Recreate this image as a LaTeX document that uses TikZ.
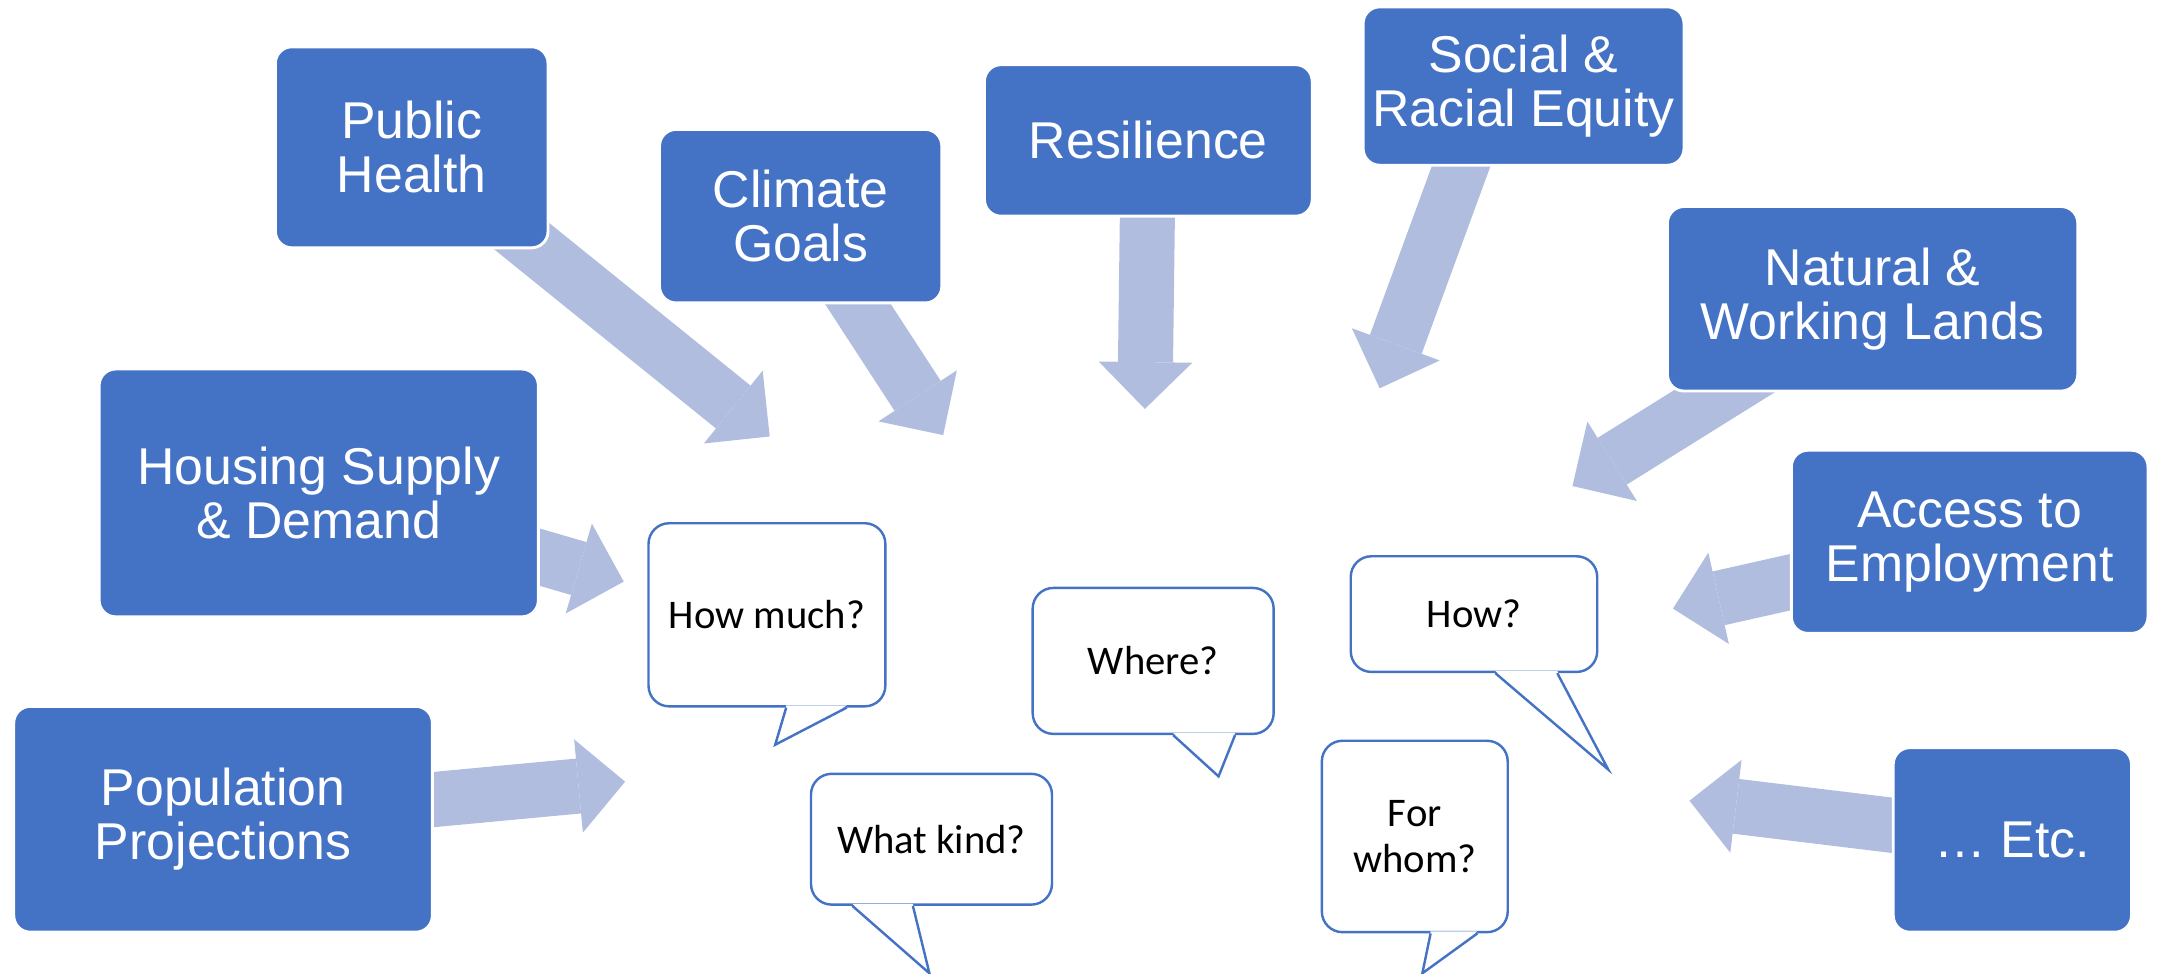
\documentclass[tikz,border=0pt]{standalone}
\usepackage{fontspec}
\setmainfont{Liberation Sans}
\newfontfamily\bubblefont{Carlito}
\usetikzlibrary{arrows.meta,calc,backgrounds}
\definecolor{boxblue}{RGB}{68,114,196}
\definecolor{arrowblue}{RGB}{176,189,222}
\begin{document}
\begin{tikzpicture}[x=0.1mm, y=-0.1mm,
		topic/.style = {fill=boxblue, draw=white, line width=0.6pt, rounded corners=1.2mm, text=white, align=center, inner sep=0pt, font=\fontsize{10.7pt}{11.2pt}\selectfont},
		ask/.style = {fill=white, draw=boxblue, line width=0.5pt, rounded corners=1.5mm, align=center, inner sep=0pt, font=\bubblefont\fontsize{8.4pt}{9.6pt}\selectfont},
		flow/.style = {draw=arrowblue, line width=4mm, -{Triangle[length=3.4mm, width=6.8mm, line width=0pt]}}]
			\useasboundingbox (0,0) rectangle (1568,707);

			\node[topic, minimum width=19.8mm, minimum height=14.6mm] (ph) at (299,107) {Public\\Health};
			\node[topic, minimum width=20.5mm, minimum height=12.6mm] (cg) at (581.5,157) {Climate\\Goals};
			\node[topic, minimum width=23.8mm, minimum height=11mm] (res) at (834,102) {Resilience};
			\node[topic, minimum width=23.3mm, minimum height=11.5mm] (sre) at (1106.5,62.5) {Social \&\\Racial Equity};
			\node[topic, minimum width=29.8mm, minimum height=13.4mm] (nwl) at (1360,217) {Natural \&\\Working Lands};
			\node[topic, minimum width=25.9mm, minimum height=13.3mm] (ate) at (1430.5,393.5) {Access to\\Employment};
			\node[topic, minimum width=17.3mm, minimum height=13.4mm] (etc) at (1461.5,610) {… Etc.};
			\node[topic, minimum width=31.9mm, minimum height=18mm] (hsd) at (231.5,358) {Housing Supply\\\& Demand};
			\node[topic, minimum width=30.4mm, minimum height=16.4mm] (pop) at (162,595) {Population\\Projections};

			\node[ask, minimum width=17.2mm, minimum height=13.3mm] (hm) at (557,446.5) {How much?};
			\node[ask, minimum width=17.5mm, minimum height=9.5mm] (wk) at (676.5,609.5) {What kind?};
			\node[ask, minimum width=17.5mm, minimum height=10.6mm] (wh) at (837.5,480) {Where?};
			\node[ask, minimum width=17.9mm, minimum height=8.4mm] (how) at (1070.5,446) {How?};
			\node[ask, minimum width=13.5mm, minimum height=13.9mm] (fw) at (1027.5,607.5) {For\\whom?};

			\foreach \b/\l/\r/\tx/\ty in {hm/14/58/6/27, wk/-57.5/-13.5/-1.5/49, wh/14.5/59.5/47.5/30, how/15.5/60.5/97.5/70, fw/11.5/45.5/5.5/29} {
				\fill[white] ($(\b.south)+(\l,-1.5)$) -- ($(\b.south)+(\tx,\ty)$) -- ($(\b.south)+(\r,-1.5)$) -- cycle;
				\draw[boxblue, line width=0.5pt] ($(\b.south)+(\l,0)$) -- ($(\b.south)+(\tx,\ty)$) -- ($(\b.south)+(\r,0)$);
			}

			\coordinate (phtip) at (559,317);
			\coordinate (cgtip) at (685,316);
			\coordinate (restip) at (831.5,297);
			\coordinate (sretip) at (1002,282);
			\coordinate (nwltip) at (1142,353);
			\coordinate (atetip) at (1215,442);
			\coordinate (etctip) at (1227,581.5);
			\coordinate (hsdtip) at (453,422.4);
			\coordinate (poptip) at (454,567.7);

			\begin{pgfonlayer}{background}
				\draw[flow] (ph.center) -- (phtip);
				\draw[flow] (cg.center) -- (cgtip);
				\draw[flow] (res.center) -- (restip);
				\draw[flow] ($(sre.center)+(-24,0)$) -- (sretip);
				\draw[flow] (nwl.center) -- (nwltip);
				\draw[flow] (ate.center) -- (atetip);
				\draw[flow] (etc.center) -- (etctip);
				\draw[flow] (hsd.center) -- (hsdtip);
				\draw[flow] (pop.center) -- (poptip);
			\end{pgfonlayer}
		\end{tikzpicture}
\end{document}
